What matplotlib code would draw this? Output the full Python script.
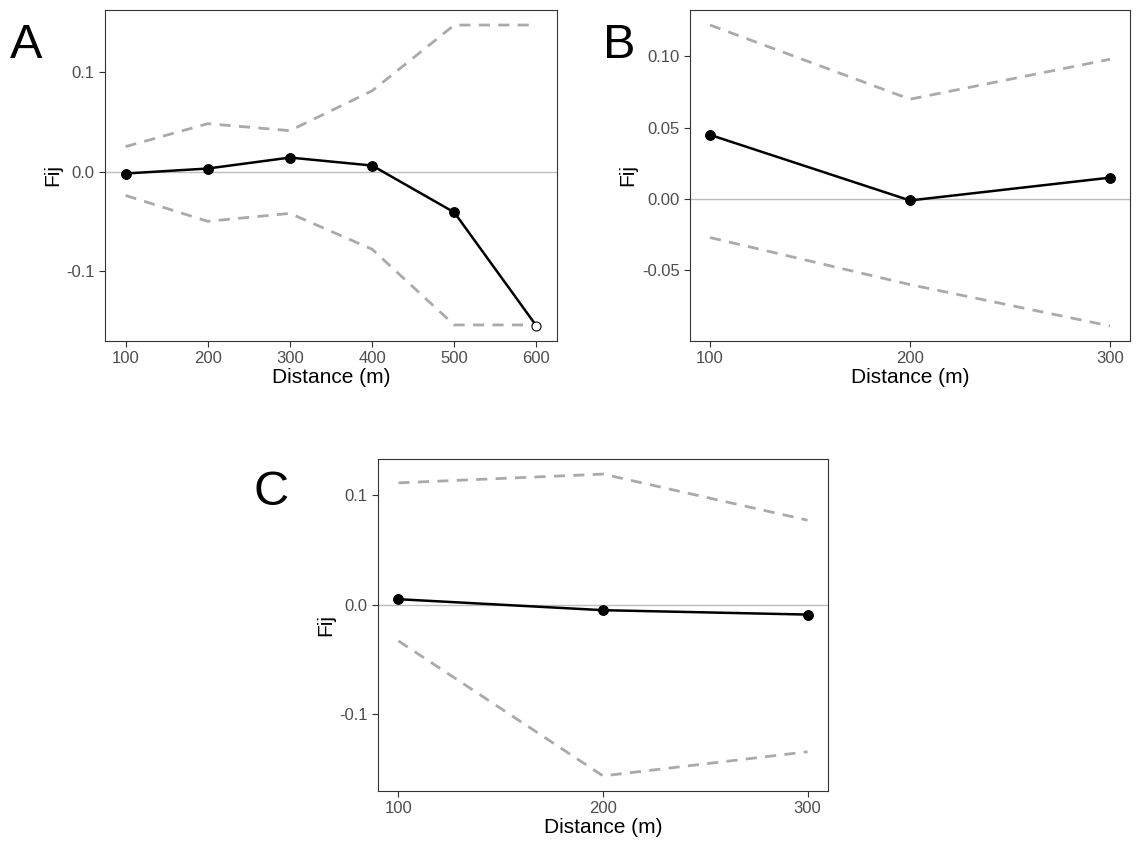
import matplotlib
matplotlib.use('Agg')
import matplotlib.pyplot as plt
from matplotlib.ticker import FixedLocator, FuncFormatter

plt.rcParams['font.family'] = ['Liberation Sans', 'DejaVu Sans']

# panel A
a_dist = [100, 200, 300, 400, 500, 600]
a_fij = [-0.002, 0.003, 0.014, 0.006, -0.041, -0.155]
a_upper = [0.025, 0.048, 0.041, 0.081, 0.147, 0.147]
a_lower = [-0.024, -0.050, -0.042, -0.078, -0.154, -0.154]
a_open = [False, False, False, False, False, True]
a_yticks = [-0.1, 0.0, 0.1]

# panel B
b_dist = [100, 200, 300]
b_fij = [0.045, -0.001, 0.015]
b_upper = [0.122, 0.070, 0.098]
b_lower = [-0.027, -0.060, -0.089]
b_open = [False, False, False]
b_yticks = [-0.05, 0.00, 0.05, 0.10]

# panel C
c_dist = [100, 200, 300]
c_fij = [0.005, -0.005, -0.009]
c_upper = [0.111, 0.119, 0.077]
c_lower = [-0.033, -0.156, -0.134]
c_open = [False, False, False]
c_yticks = [-0.1, 0.0, 0.1]

W, H = 1137, 844
fig = plt.figure(figsize=(W / 100, H / 100), dpi=100)


def box(l, t, r, b):
    return [l / W, 1 - b / H, (r - l) / W, (b - t) / H]


def panel(rect, dist, fij, upper, lower, is_open, yticks, ndec):
    ax = fig.add_axes(rect)
    ax.axhline(0, color='#bdbdbd', lw=1, zorder=1)
    ax.plot(dist, upper, color='#aaaaaa', lw=2, dashes=(4, 3), zorder=2)
    ax.plot(dist, lower, color='#aaaaaa', lw=2, dashes=(4, 3), zorder=2)
    ax.plot(dist, fij, color='black', lw=1.8, zorder=3)
    for x, y, o in zip(dist, fij, is_open):
        ax.plot(x, y, 'o', ms=7 if not o else 6.5, mfc='white' if o else 'black',
                mec='black', mew=0.8, zorder=4)
    ax.margins(0.05)
    ax.set_xticks(dist)
    ax.yaxis.set_major_locator(FixedLocator(yticks))
    ax.yaxis.set_major_formatter(FuncFormatter(lambda v, p: ('%.' + str(ndec) + 'f') % v))
    ax.tick_params(colors='#333333', labelcolor='#4d4d4d', labelsize=12, length=4, width=0.8)
    for s in ax.spines.values():
        s.set_color('#333333')
        s.set_linewidth(0.8)
    ax.set_xlabel('Distance (m)', fontsize=15, labelpad=1)
    ax.set_ylabel('Fij', fontsize=15, labelpad=3)
    return ax


panel(box(105, 10, 557, 341), a_dist, a_fij, a_upper, a_lower, a_open, a_yticks, 1)
panel(box(690, 10, 1130, 341), b_dist, b_fij, b_upper, b_lower, b_open, b_yticks, 2)
panel(box(378, 459, 828, 791), c_dist, c_fij, c_upper, c_lower, c_open, c_yticks, 1)

fig.text(10 / W, 1 - 58 / H, 'A', fontsize=35)
fig.text(603 / W, 1 - 58 / H, 'B', fontsize=35)
fig.text(253 / W, 1 - 505 / H, 'C', fontsize=35)

fig.savefig('out.png', dpi=100)
